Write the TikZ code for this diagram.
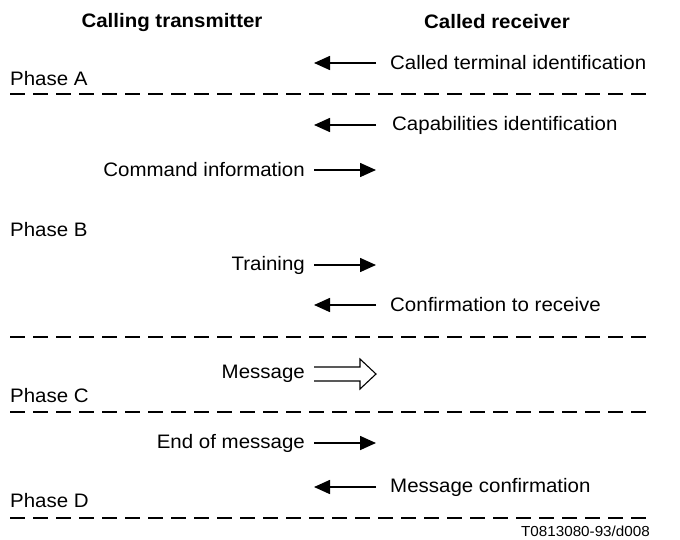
\documentclass[tikz,border=0pt]{standalone}
\usepackage{fontspec}
\setmainfont{Liberation Sans}[FakeStretch=1.05]
\usetikzlibrary{arrows.meta}
\usetikzlibrary{positioning}
\usetikzlibrary{calc}

\tikzset{
    txt/.style={font=\fontsize{19.5}{22}\selectfont, inner sep=0pt},
    head/.style={txt, font=\fontsize{19.5}{22}\selectfont\bfseries},
    phase/.style={txt, anchor=west},
    sep/.style={line width=2pt, dash pattern=on 15pt off 8pt},
    sig/.style={line width=1.6pt, -{Triangle[length=16pt,width=14pt]}}
}

\begin{document}
\begin{tikzpicture}[x=1pt, y=-1pt]
        \useasboundingbox (0,0) rectangle (680,539);

        % Column headings
        \node[head] (hcall) at (172,22) {Calling transmitter};
        \node[head] (hrecv) at (497,22) {Called receiver};

        % Arrow ends (left = transmitter side, right = receiver side)
        \coordinate (l1) at (314,63);   \coordinate (r1) at (376,63);
        \coordinate (l2) at (314,125);  \coordinate (r2) at (376,125);
        \coordinate (l3) at (314,170);  \coordinate (r3) at (376,170);
        \coordinate (l4) at (314,265);  \coordinate (r4) at (376,265);
        \coordinate (l5) at (314,305);  \coordinate (r5) at (376,305);
        \coordinate (l6) at (314,374);  \coordinate (r6) at (376,374);
        \coordinate (l7) at (314,443);  \coordinate (r7) at (376,443);
        \coordinate (l8) at (314,487);  \coordinate (r8) at (376,487);

        % Phase A
        \draw[sig] (r1) -- (l1);
        \node[txt, right=14pt of r1] (callid) {Called terminal identification};
        \node[phase] (pha) at (10,79) {Phase A};
        \coordinate (sa1) at (10,94); \coordinate (sa2) at (650,94);
        \draw[sep] (sa1) -- (sa2);

        % Phase B
        \draw[sig] (r2) -- (l2);
        \node[txt, right=16pt of r2] (capid) {Capabilities identification};
        \draw[sig] (l3) -- (r3);
        \node[txt, left=9pt of l3] (cmdinf) {Command information};
        \node[phase] (phb) at (10,230) {Phase B};
        \draw[sig] (l4) -- (r4);
        \node[txt, left=9pt of l4] (train) {Training};
        \draw[sig] (r5) -- (l5);
        \node[txt, right=14pt of r5] (confrx) {Confirmation to receive};
        \coordinate (sb1) at (10,337); \coordinate (sb2) at (650,337);
        \draw[sep] (sb1) -- (sb2);

        % Phase C - hollow message arrow
        \draw[line width=1.1pt] ($(l6)+(0,-7)$) -- ($(r6)+(-16,-7)$) -- ($(r6)+(-16,-15)$)
            -- (r6) -- ($(r6)+(-16,15)$) -- ($(r6)+(-16,7)$) -- ($(l6)+(0,7)$);
        \node[txt, left=9pt of l6] (msg) {Message};
        \node[phase] (phc) at (10,396) {Phase C};
        \coordinate (sc1) at (10,412); \coordinate (sc2) at (650,412);
        \draw[sep] (sc1) -- (sc2);

        % Phase D
        \draw[sig] (l7) -- (r7);
        \node[txt, left=9pt of l7] (eom) {End of message};
        \draw[sig] (r8) -- (l8);
        \node[txt, right=14pt of r8] (msgconf) {Message confirmation};
        \node[phase] (phd) at (10,501) {Phase D};
        \coordinate (sd1) at (10,518); \coordinate (sd2) at (650,518);
        \draw[sep] (sd1) -- (sd2);

        % Figure reference
        \node[txt, anchor=east, font=\fontsize{14.5}{16}\selectfont] (figref) at (650,531) {T0813080-93/d008};

    \end{tikzpicture}
\end{document}
